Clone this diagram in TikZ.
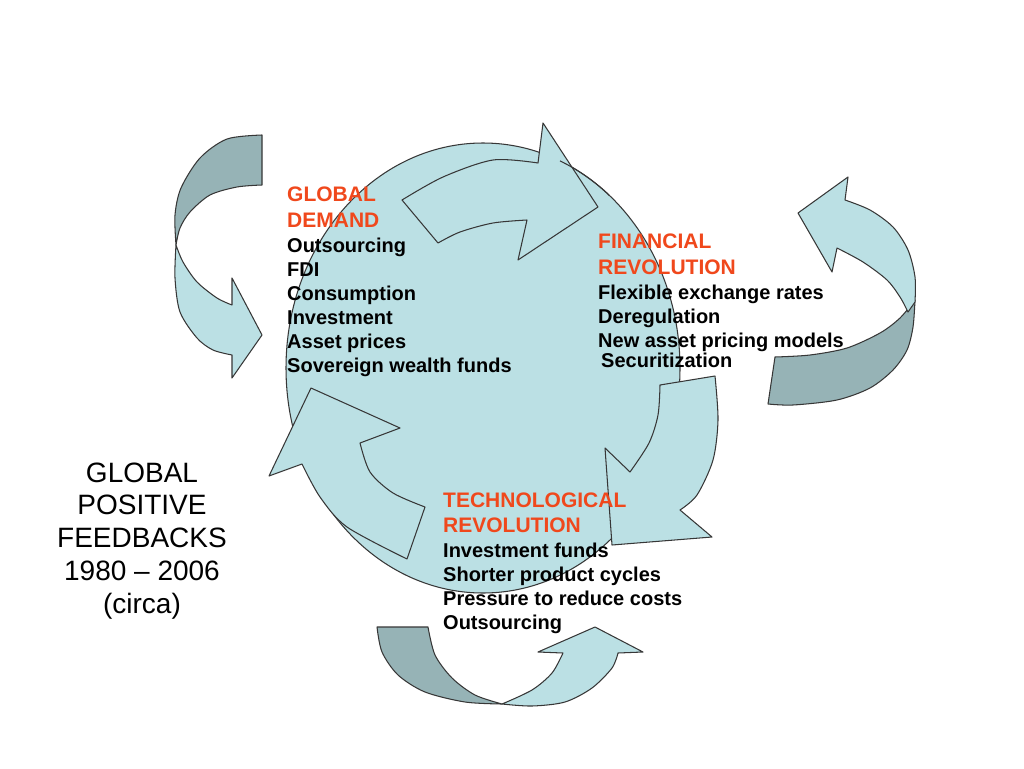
\documentclass[tikz,border=0pt]{standalone}
\usepackage{fontspec}
\setmainfont{Liberation Sans}
\definecolor{circfill}{RGB}{187,224,228}
\definecolor{arrowlight}{RGB}{187,224,228}
\definecolor{arrowdark}{RGB}{150,179,182}
\definecolor{headred}{RGB}{240,72,28}
\definecolor{outline}{RGB}{55,55,55}
\begin{document}
\begin{tikzpicture}[x=1pt,y=-1pt,
  outl/.style={draw=outline, line width=1.05pt, line join=round},
  lightface/.style={outl, fill=arrowlight},
  darkface/.style={outl, fill=arrowdark},
  headtxt/.style={anchor=base west, inner sep=0pt, font=\bfseries\fontsize{21}{24}\selectfont, text=headred},
  itemtxt/.style={anchor=base west, inner sep=0pt, font=\bfseries\fontsize{20}{24}\selectfont},
  titletxt/.style={anchor=base, inner sep=0pt, font=\fontsize{28}{33}\selectfont}]
\useasboundingbox (0,0) rectangle (1024,768);
\fill[white] (0,0) rectangle (1024,768);

% big circle
\draw[outl, fill=circfill] (483,368) ellipse [x radius=197, y radius=225];

% inner arrows
\draw[lightface] (402,200) -- (438,243)
  -- plot[smooth] coordinates {(438,243) (460,232) (493,223) (527,220)}
  -- (518,260) -- (598,207) -- (543,123) -- (538,163)
  -- plot[smooth] coordinates {(538,163) (493,160) (443,177) (402,200)} -- cycle;
\draw[lightface] (660,385) -- (715,376)
  -- plot[smooth] coordinates {(715,376) (718,420) (713,460) (697,495) (680,510)}
  -- (712,537) -- (612,545) -- (605,448) -- (630,472)
  -- plot[smooth] coordinates {(630,472) (649,443) (658,415) (660,385)} -- cycle;
\draw[lightface] (407,559) -- (425,507)
  -- plot[smooth] coordinates {(425,507) (393,493) (370,472) (360,443)}
  -- (400,428) -- (311,388) -- (269,476) -- (302,464)
  -- plot[smooth] coordinates {(302,464) (320,497) (347,527) (407,559)} -- cycle;
% circle outline seen through the top arrow head
\draw[outl] (483,368) ++(-67:197 and 225) arc[start angle=-67, end angle=-50, x radius=197, y radius=225];

% outer left arrow
\draw[darkface] (262,135)
  -- plot[smooth] coordinates {(262,135) (227,139) (200,158) (181,188) (175,215) (176,245)}
  -- plot[smooth] coordinates {(176,245) (180,228) (190,212) (210,195) (237,187) (262,185)} -- cycle;
\draw[lightface] (176,245)
  -- plot[smooth] coordinates {(176,245) (175,278) (180,312) (197,338) (213,350) (232,355)}
  -- (232,378) -- (262,335) -- (232,278) -- (232,305)
  -- plot[smooth] coordinates {(232,305) (217,298) (197,282) (183,262) (176,245)} -- cycle;

% outer right arrow
\draw[darkface] (768,404) -- (775,357)
  -- plot[smooth] coordinates {(775,357) (810,355) (847,348) (880,333) (900,318) (915,300)}
  -- plot[smooth] coordinates {(915,300) (913,327) (907,350) (893,370) (870,388) (837,400) (793,405) (768,404)} -- cycle;
\draw[lightface] (908,312)
  -- plot[smooth] coordinates {(908,312) (900,297) (887,280) (863,262) (837,248)}
  -- (832,272) -- (798,213) -- (848,177) -- (845,200)
  -- plot[smooth] coordinates {(845,200) (870,210) (893,227) (908,250) (915,277) (915,302)} -- cycle;

% outer bottom arrow
\draw[darkface] (377,627) -- (428,627)
  -- plot[smooth] coordinates {(428,627) (435,655) (452,678) (475,695) (502,704)}
  -- plot[smooth] coordinates {(502,704) (465,702) (425,692) (398,675) (382,652) (377,627)} -- cycle;
\draw[lightface] (502,704)
  -- plot[smooth] coordinates {(502,704) (532,690) (552,673) (563,653)}
  -- (538,652) -- (595,627) -- (643,652) -- (618,653)
  -- plot[smooth] coordinates {(618,653) (612,668) (592,688) (565,702) (532,706) (502,704)} -- cycle;

% Global demand
\node[headtxt] (gdA) at (287,201) {GLOBAL};
\node[headtxt] (gdB) at (287,227) {DEMAND};
\node[itemtxt] (gd1) at (287,252) {Outsourcing};
\node[itemtxt] (gd2) at (287,276) {FDI};
\node[itemtxt] (gd3) at (287,300) {Consumption};
\node[itemtxt] (gd4) at (287,324) {Investment};
\node[itemtxt] (gd5) at (287,348) {Asset prices};
\node[itemtxt] (gd6) at (287,372) {Sovereign wealth funds};

% Financial revolution
\node[headtxt] (frA) at (598,248) {FINANCIAL};
\node[headtxt] (frB) at (598,274) {REVOLUTION};
\node[itemtxt] (fr1) at (598,299) {Flexible exchange rates};
\node[itemtxt] (fr2) at (598,323) {Deregulation};
\node[itemtxt] (fr3) at (598,347) {New asset pricing models};
\node[itemtxt] (fr4) at (601,367) {Securitization};

% Technological revolution
\node[headtxt] (trA) at (443,507) {TECHNOLOGICAL};
\node[headtxt] (trB) at (443,532) {REVOLUTION};
\node[itemtxt] (tr1) at (443,557) {Investment funds};
\node[itemtxt] (tr2) at (443,581) {Shorter product cycles};
\node[itemtxt] (tr3) at (443,605) {Pressure to reduce costs};
\node[itemtxt] (tr4) at (443,629) {Outsourcing};

% title
\node[titletxt] (t1) at (142,482) {GLOBAL};
\node[titletxt] (t2) at (142,514) {POSITIVE};
\node[titletxt] (t3) at (142,547) {FEEDBACKS};
\node[titletxt] (t4) at (142,580) {1980 – 2006};
\node[titletxt] (t5) at (142,613) {(circa)};
\end{tikzpicture}
\end{document}
